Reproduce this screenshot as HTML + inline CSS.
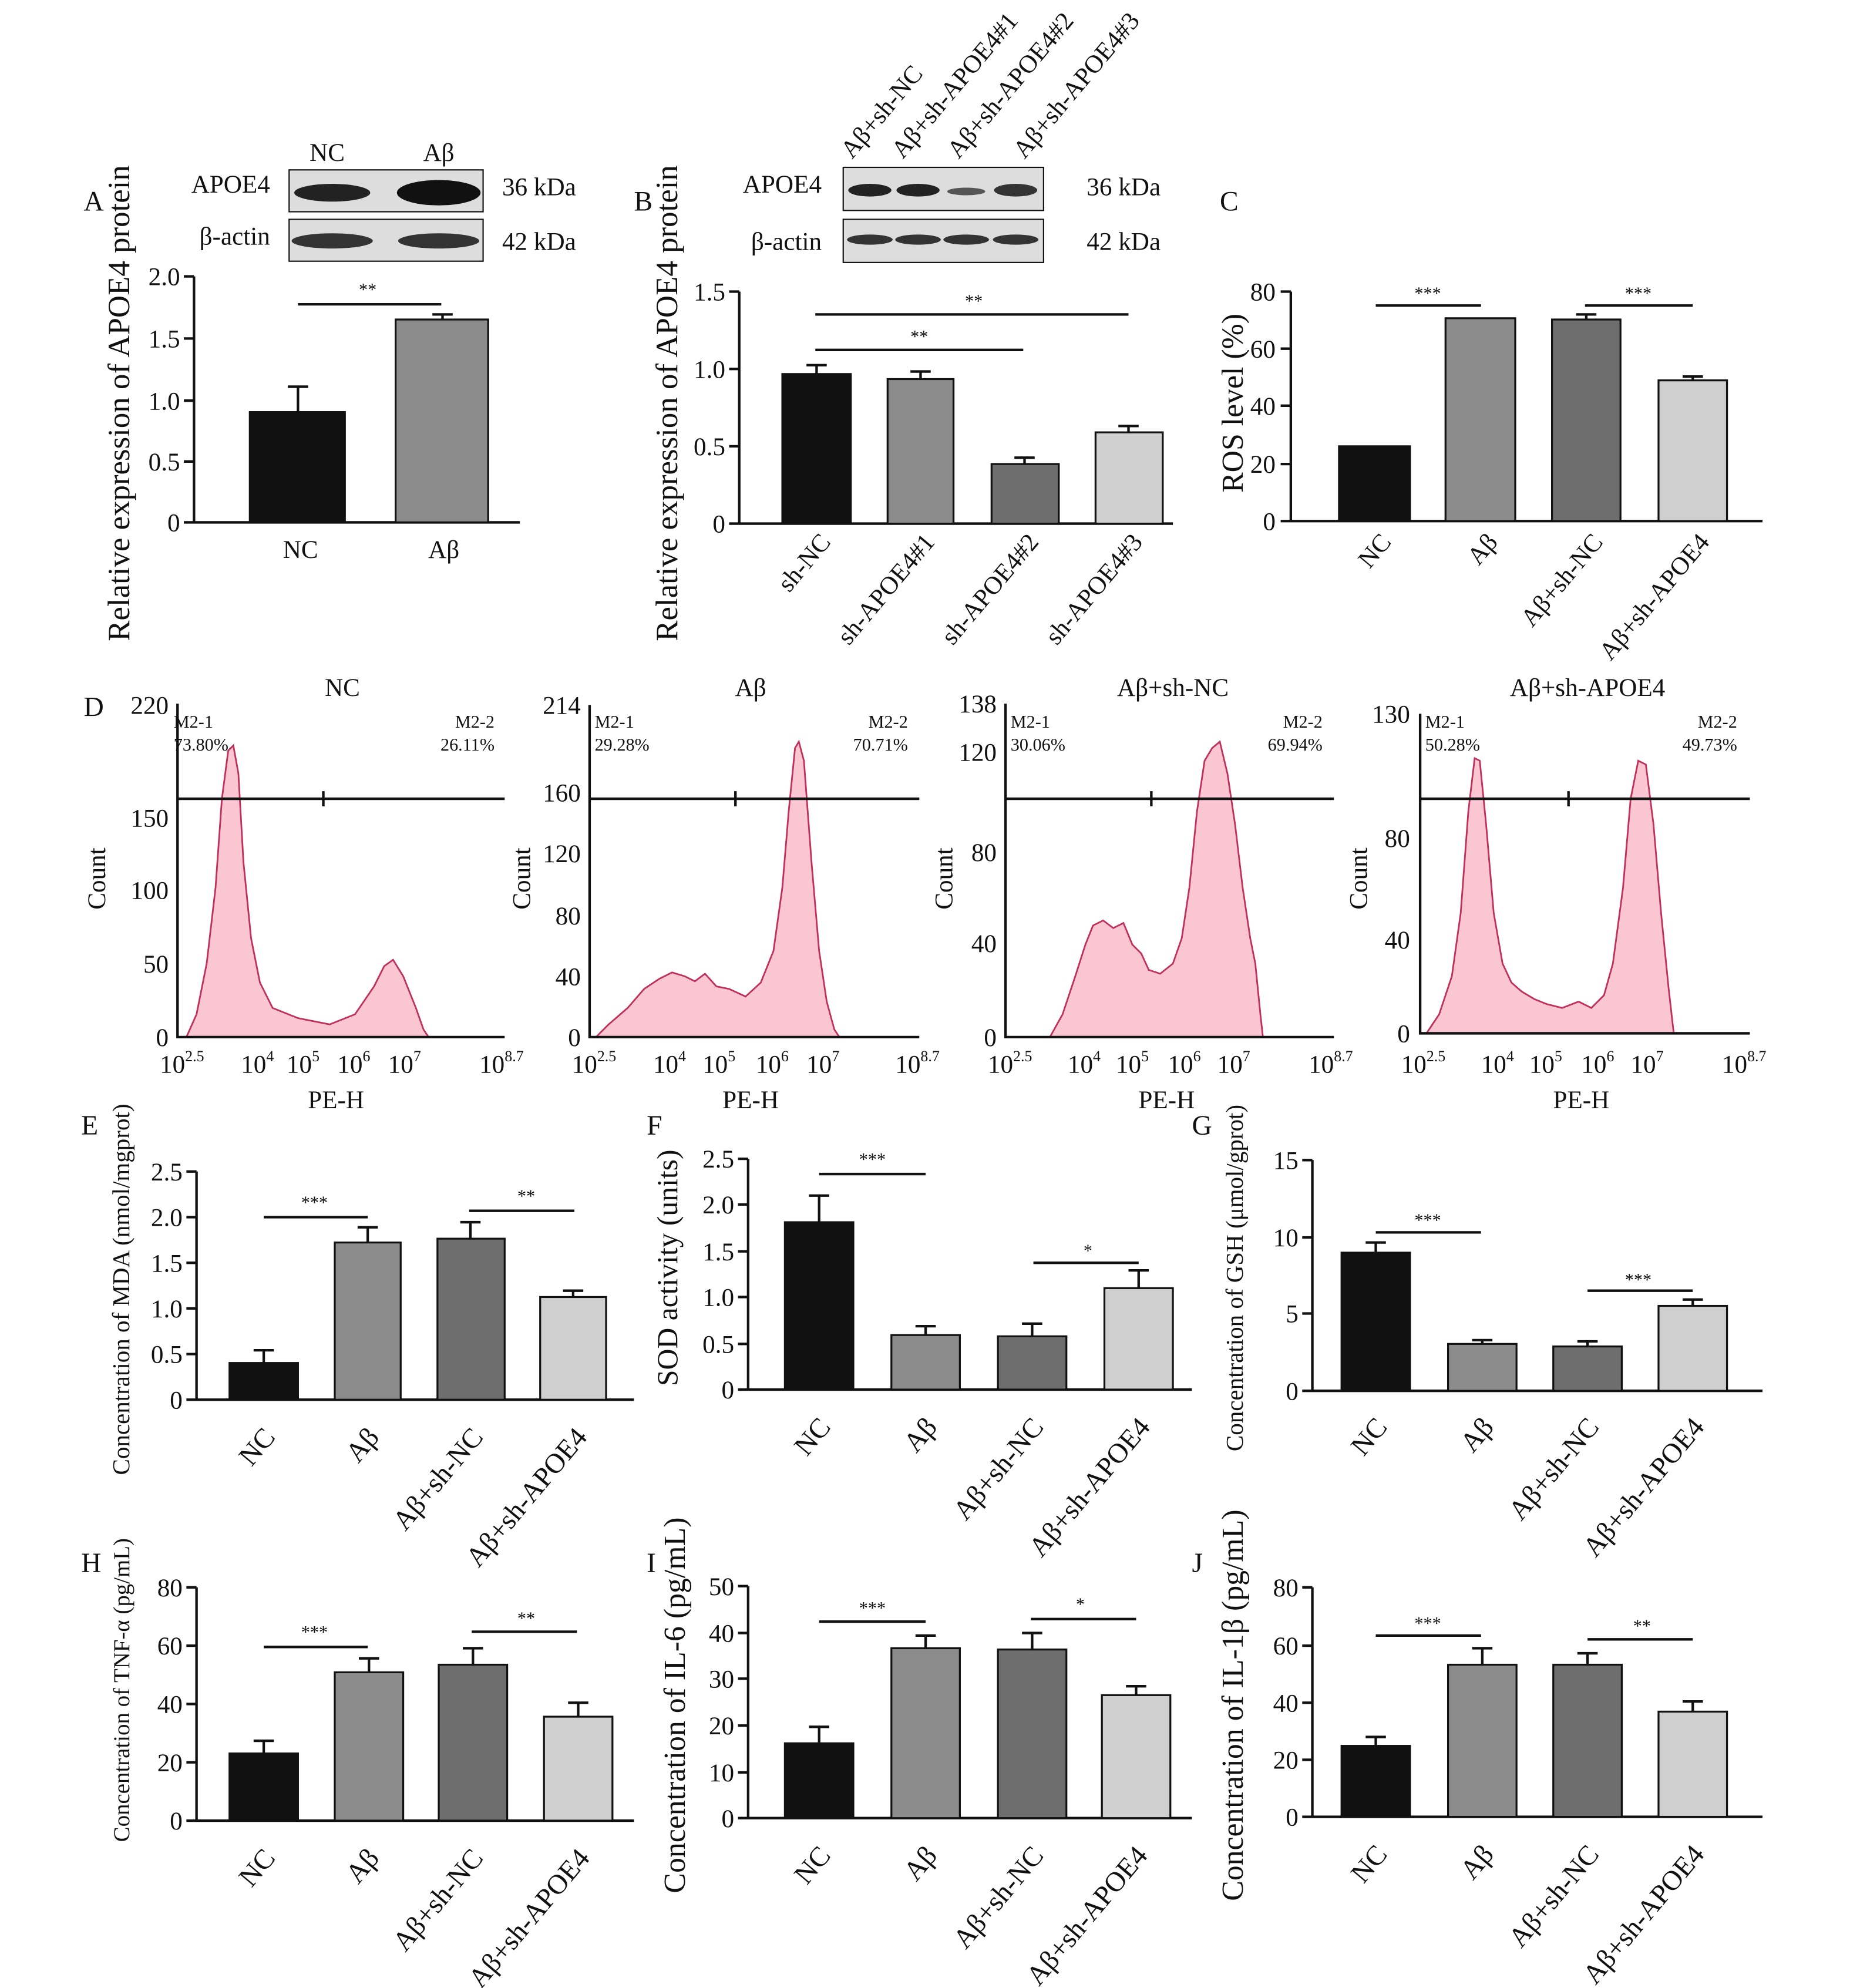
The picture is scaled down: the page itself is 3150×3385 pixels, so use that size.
<!DOCTYPE html>
<html><head><meta charset="utf-8"><style>
html,body{margin:0;padding:0;background:#fff}
svg{display:block}
text{font-family:"Liberation Serif",serif;fill:#111}
.t{font-size:20px}
.s{font-size:14px}
.l{font-size:22px}
.r{font-size:22px}
.ax{stroke:#111;stroke-width:2;fill:none}
.b{stroke:#111;stroke-width:1.5}
.e{stroke:#111;stroke-width:2;fill:none}
.h{fill:#f9c6d2;stroke:#c0305a;stroke-width:1.3}
</style></head><body>
<svg width="3150" height="3385" viewBox="0 0 1459 1568" preserveAspectRatio="none" xmlns="http://www.w3.org/2000/svg">
<rect width="1459" height="1568" fill="#fff"/>

<!-- ===== Panel A ===== -->
<text x="66" y="166" class="l">A</text>
<text x="258" y="127" class="t" text-anchor="middle">NC</text>
<text x="346" y="127" class="t" text-anchor="middle">Aβ</text>
<text x="213" y="152" class="t" text-anchor="end">APOE4</text>
<text x="213" y="193" class="t" text-anchor="end">β-actin</text>
<rect x="228" y="134" width="153" height="33" fill="#ddd" stroke="#111"/>
<rect x="228" y="173" width="153" height="33" fill="#ddd" stroke="#111"/>
<ellipse cx="262" cy="152" rx="30" ry="7" fill="#222"/>
<ellipse cx="346" cy="152" rx="33" ry="10" fill="#111"/>
<ellipse cx="262" cy="190" rx="32" ry="6" fill="#333"/>
<ellipse cx="346" cy="190" rx="32" ry="6" fill="#333"/>
<text x="396" y="154" class="t">36 kDa</text>
<text x="396" y="197" class="t">42 kDa</text>
<path class="ax" d="M153 218V412H410M145 218H153M145 267H153M145 316H153M145 364H153M145 412H153"/>
<g class="t" text-anchor="end"><text x="142" y="225">2.0</text><text x="142" y="274">1.5</text><text x="142" y="323">1.0</text><text x="142" y="371">0.5</text><text x="142" y="419">0</text></g>
<rect x="197" y="325" width="75" height="87" fill="#111" class="b"/>
<rect x="312" y="252" width="73" height="160" fill="#8c8c8c" class="b"/>
<path class="e" d="M235 325V305M227 305H243M349 252V248M341 248H357"/>
<path class="e" d="M235 240H348"/><text x="290" y="233" class="s" text-anchor="middle">**</text>
<text x="237" y="440" class="t" text-anchor="middle">NC</text>
<text x="350" y="440" class="t" text-anchor="middle">Aβ</text>
<text transform="translate(102,318) rotate(-90)" font-size="24.5" text-anchor="middle">Relative expression of APOE4 protein</text>

<!-- ===== Panel B ===== -->
<text x="500" y="166" class="l">B</text>
<g class="t">
<text transform="translate(672,126) rotate(-50)">Aβ+sh-NC</text>
<text transform="translate(712,126) rotate(-50)">Aβ+sh-APOE4#1</text>
<text transform="translate(756,126) rotate(-50)">Aβ+sh-APOE4#2</text>
<text transform="translate(808,126) rotate(-50)">Aβ+sh-APOE4#3</text>
</g>
<text x="648" y="152" class="t" text-anchor="end">APOE4</text>
<text x="648" y="197" class="t" text-anchor="end">β-actin</text>
<rect x="665" y="132" width="158" height="34" fill="#ddd" stroke="#111"/>
<rect x="665" y="173" width="158" height="34" fill="#ddd" stroke="#111"/>
<ellipse cx="686" cy="150" rx="17" ry="5" fill="#222"/>
<ellipse cx="724" cy="150" rx="17" ry="5" fill="#222"/>
<ellipse cx="762" cy="151" rx="15" ry="3" fill="#555"/>
<ellipse cx="801" cy="150" rx="17" ry="5" fill="#333"/>
<ellipse cx="686" cy="189" rx="18" ry="4" fill="#333"/>
<ellipse cx="724" cy="189" rx="18" ry="4" fill="#333"/>
<ellipse cx="762" cy="189" rx="18" ry="4" fill="#333"/>
<ellipse cx="801" cy="189" rx="18" ry="4" fill="#333"/>
<text x="857" y="154" class="t">36 kDa</text>
<text x="857" y="197" class="t">42 kDa</text>
<path class="ax" d="M583 230V413H925M575 230H583M575 291H583M575 352H583M575 413H583"/>
<g class="t" text-anchor="end"><text x="572" y="237">1.5</text><text x="572" y="298">1.0</text><text x="572" y="359">0.5</text><text x="572" y="420">0</text></g>
<rect x="617" y="295" width="54" height="118" fill="#111" class="b"/>
<rect x="700" y="299" width="52" height="114" fill="#8c8c8c" class="b"/>
<rect x="782" y="366" width="53" height="47" fill="#6e6e6e" class="b"/>
<rect x="864" y="341" width="53" height="72" fill="#cfcfcf" class="b"/>
<path class="e" d="M644 295V288M636 288H652M726 299V293M718 293H734M808 366V361M800 361H816M890 341V336M882 336H898"/>
<path class="e" d="M643 276H807M643 248H890"/>
<text x="725" y="270" class="s" text-anchor="middle">**</text>
<text x="768" y="242" class="s" text-anchor="middle">**</text>
<g class="t" text-anchor="end">
<text transform="translate(656,428) rotate(-50)">sh-NC</text>
<text transform="translate(738,428) rotate(-50)">sh-APOE4#1</text>
<text transform="translate(820,428) rotate(-50)">sh-APOE4#2</text>
<text transform="translate(902,428) rotate(-50)">sh-APOE4#3</text>
</g>
<text transform="translate(534,318) rotate(-90)" font-size="24.5" text-anchor="middle">Relative expression of APOE4 protein</text>

<!-- ===== Panel C ===== -->
<text x="962" y="166" class="l">C</text>
<path class="ax" d="M1018 230V411H1390M1010 230H1018M1010 275H1018M1010 320H1018M1010 366H1018M1010 411H1018"/>
<g class="t" text-anchor="end"><text x="1006" y="237">80</text><text x="1006" y="282">60</text><text x="1006" y="327">40</text><text x="1006" y="373">20</text><text x="1006" y="418">0</text></g>
<rect x="1056" y="352" width="56" height="59" fill="#111" class="b"/>
<rect x="1140" y="251" width="55" height="160" fill="#8c8c8c" class="b"/>
<rect x="1224" y="252" width="54" height="159" fill="#6e6e6e" class="b"/>
<rect x="1308" y="300" width="54" height="111" fill="#cfcfcf" class="b"/>
<path class="e" d="M1251 252V248M1243 248H1259M1335 300V297M1327 297H1343"/>
<path class="e" d="M1085 241H1168M1250 241H1335"/>
<text x="1126" y="236" class="s" text-anchor="middle">***</text>
<text x="1292" y="236" class="s" text-anchor="middle">***</text>
<g class="t" text-anchor="end">
<text transform="translate(1098,428) rotate(-50)">NC</text>
<text transform="translate(1182,428) rotate(-50)">Aβ</text>
<text transform="translate(1265,428) rotate(-50)">Aβ+sh-NC</text>
<text transform="translate(1349,428) rotate(-50)">Aβ+sh-APOE4</text>
</g>
<text transform="translate(980,318) rotate(-90)" font-size="24" text-anchor="middle">ROS level (%)</text>

<!-- ===== Panel D ===== -->
<text x="66" y="565" class="l">D</text>
<text x="270" y="549" class="t" text-anchor="middle">NC</text>
<path class="h" d="M147 818L155 800L163 760L170 700L175 630L180 592L184 588L188 610L192 680L198 740L205 775L215 795L235 803L260 808L280 800L295 778L303 762L310 757L318 770L328 795L334 812L338 818Z"/>
<path class="ax" d="M140 555V818H398M140 630H398M255 624V636"/>
<g class="t" text-anchor="end"><text x="133" y="563">220</text><text x="133" y="652">150</text><text x="133" y="709">100</text><text x="133" y="767">50</text><text x="133" y="825">0</text></g>
<text x="137" y="574" class="s">M2-1</text><text x="137" y="592" class="s">73.80%</text>
<text x="390" y="574" class="s" text-anchor="end">M2-2</text><text x="390" y="592" class="s" text-anchor="end">26.11%</text>
<text transform="translate(83,693) rotate(-90)" class="t" text-anchor="middle">Count</text>
<g class="t"><text x="126" y="846">10<tspan font-size="12" dy="-9">2.5</tspan></text><text x="190" y="846">10<tspan font-size="12" dy="-9">4</tspan></text><text x="226" y="846">10<tspan font-size="12" dy="-9">5</tspan></text><text x="266" y="846">10<tspan font-size="12" dy="-9">6</tspan></text><text x="306" y="846">10<tspan font-size="12" dy="-9">7</tspan></text><text x="378" y="846">10<tspan font-size="12" dy="-9">8.7</tspan></text></g>
<text x="265" y="874" class="t" text-anchor="middle">PE-H</text>

<text x="592" y="549" class="t" text-anchor="middle">Aβ</text>
<path class="h" d="M470 818L480 808L495 795L508 780L520 772L530 767L540 770L548 774L556 768L565 778L575 780L588 786L600 775L610 750L617 700L622 640L627 590L630 585L634 600L640 680L646 750L652 790L658 812L662 818Z"/>
<path class="ax" d="M465 556V818H725M465 630H725M580 624V636"/>
<g class="t" text-anchor="end"><text x="458" y="563">214</text><text x="458" y="632">160</text><text x="458" y="680">120</text><text x="458" y="729">80</text><text x="458" y="777">40</text><text x="458" y="825">0</text></g>
<text x="469" y="574" class="s">M2-1</text><text x="469" y="592" class="s">29.28%</text>
<text x="716" y="574" class="s" text-anchor="end">M2-2</text><text x="716" y="592" class="s" text-anchor="end">70.71%</text>
<text transform="translate(418,693) rotate(-90)" class="t" text-anchor="middle">Count</text>
<g class="t"><text x="451" y="846">10<tspan font-size="12" dy="-9">2.5</tspan></text><text x="515" y="846">10<tspan font-size="12" dy="-9">4</tspan></text><text x="554" y="846">10<tspan font-size="12" dy="-9">5</tspan></text><text x="596" y="846">10<tspan font-size="12" dy="-9">6</tspan></text><text x="636" y="846">10<tspan font-size="12" dy="-9">7</tspan></text><text x="706" y="846">10<tspan font-size="12" dy="-9">8.7</tspan></text></g>
<text x="592" y="874" class="t" text-anchor="middle">PE-H</text>

<text x="925" y="549" class="t" text-anchor="middle">Aβ+sh-NC</text>
<path class="h" d="M828 818L838 800L848 770L856 745L862 730L870 726L878 732L886 728L893 745L900 752L906 765L915 768L925 760L932 740L938 700L944 640L950 600L956 590L962 585L968 610L974 650L980 700L986 740L990 760L994 800L996 818Z"/>
<path class="ax" d="M793 555V818H1052M793 630H1052M908 624V636"/>
<g class="t" text-anchor="end"><text x="786" y="562">138</text><text x="786" y="600">120</text><text x="786" y="679">80</text><text x="786" y="751">40</text><text x="786" y="825">0</text></g>
<text x="797" y="574" class="s">M2-1</text><text x="797" y="592" class="s">30.06%</text>
<text x="1043" y="574" class="s" text-anchor="end">M2-2</text><text x="1043" y="592" class="s" text-anchor="end">69.94%</text>
<text transform="translate(751,693) rotate(-90)" class="t" text-anchor="middle">Count</text>
<g class="t"><text x="779" y="846">10<tspan font-size="12" dy="-9">2.5</tspan></text><text x="842" y="846">10<tspan font-size="12" dy="-9">4</tspan></text><text x="880" y="846">10<tspan font-size="12" dy="-9">5</tspan></text><text x="921" y="846">10<tspan font-size="12" dy="-9">6</tspan></text><text x="960" y="846">10<tspan font-size="12" dy="-9">7</tspan></text><text x="1032" y="846">10<tspan font-size="12" dy="-9">8.7</tspan></text></g>
<text x="920" y="874" class="t" text-anchor="middle">PE-H</text>

<text x="1252" y="549" class="t" text-anchor="middle">Aβ+sh-APOE4</text>
<path class="h" d="M1125 815L1135 800L1145 770L1152 720L1158 640L1163 598L1167 600L1172 650L1178 720L1185 760L1192 775L1200 782L1210 788L1220 792L1232 795L1245 790L1255 795L1265 785L1272 760L1280 700L1286 630L1292 600L1298 603L1304 650L1310 720L1316 780L1320 815Z"/>
<path class="ax" d="M1120 563V815H1380M1120 630H1380M1237 624V636"/>
<g class="t" text-anchor="end"><text x="1112" y="570">130</text><text x="1112" y="668">80</text><text x="1112" y="748">40</text><text x="1112" y="822">0</text></g>
<text x="1124" y="574" class="s">M2-1</text><text x="1124" y="592" class="s">50.28%</text>
<text x="1370" y="574" class="s" text-anchor="end">M2-2</text><text x="1370" y="592" class="s" text-anchor="end">49.73%</text>
<text transform="translate(1078,693) rotate(-90)" class="t" text-anchor="middle">Count</text>
<g class="t"><text x="1105" y="846">10<tspan font-size="12" dy="-9">2.5</tspan></text><text x="1168" y="846">10<tspan font-size="12" dy="-9">4</tspan></text><text x="1206" y="846">10<tspan font-size="12" dy="-9">5</tspan></text><text x="1247" y="846">10<tspan font-size="12" dy="-9">6</tspan></text><text x="1286" y="846">10<tspan font-size="12" dy="-9">7</tspan></text><text x="1358" y="846">10<tspan font-size="12" dy="-9">8.7</tspan></text></g>
<text x="1247" y="874" class="t" text-anchor="middle">PE-H</text>

<!-- ===== Panel E ===== -->
<text x="64" y="895" class="l">E</text>
<path class="ax" d="M155 924V1104H500M147 924H155M147 960H155M147 996H155M147 1032H155M147 1068H155M147 1104H155"/>
<g class="t" text-anchor="end"><text x="144" y="931">2.5</text><text x="144" y="967">2.0</text><text x="144" y="1003">1.5</text><text x="144" y="1039">1.0</text><text x="144" y="1075">0.5</text><text x="144" y="1111">0</text></g>
<rect x="181" y="1075" width="54" height="29" fill="#111" class="b"/>
<rect x="264" y="980" width="52" height="124" fill="#8c8c8c" class="b"/>
<rect x="345" y="977" width="53" height="127" fill="#6e6e6e" class="b"/>
<rect x="426" y="1023" width="52" height="81" fill="#cfcfcf" class="b"/>
<path class="e" d="M208 1075V1065M200 1065H216M290 980V968M282 968H298M371 977V964M363 964H379M452 1023V1018M444 1018H460"/>
<path class="e" d="M208 960H290M370 955H453"/>
<text x="248" y="953" class="s" text-anchor="middle">***</text>
<text x="415" y="948" class="s" text-anchor="middle">**</text>
<g class="r" text-anchor="end">
<text transform="translate(218,1134) rotate(-50)">NC</text>
<text transform="translate(300,1134) rotate(-50)">Aβ</text>
<text transform="translate(382,1134) rotate(-50)">Aβ+sh-NC</text>
<text transform="translate(464,1134) rotate(-50)">Aβ+sh-APOE4</text>
</g>
<text transform="translate(102,1017) rotate(-90)" font-size="19" text-anchor="middle">Concentration of MDA (nmol/mgprot)</text>

<!-- ===== Panel F ===== -->
<text x="510" y="895" class="l">F</text>
<path class="ax" d="M590 914V1096H940M582 914H590M582 950H590M582 987H590M582 1023H590M582 1060H590M582 1096H590"/>
<g class="t" text-anchor="end"><text x="579" y="921">2.5</text><text x="579" y="957">2.0</text><text x="579" y="994">1.5</text><text x="579" y="1030">1.0</text><text x="579" y="1067">0.5</text><text x="579" y="1103">0</text></g>
<rect x="619" y="964" width="54" height="132" fill="#111" class="b"/>
<rect x="703" y="1053" width="54" height="43" fill="#8c8c8c" class="b"/>
<rect x="787" y="1054" width="54" height="42" fill="#6e6e6e" class="b"/>
<rect x="871" y="1016" width="54" height="80" fill="#cfcfcf" class="b"/>
<path class="e" d="M646 964V943M638 943H654M730 1053V1046M722 1046H738M814 1054V1044M806 1044H822M898 1016V1002M890 1002H906"/>
<path class="e" d="M646 926H730M815 996H898"/>
<text x="688" y="919" class="s" text-anchor="middle">***</text>
<text x="858" y="991" class="s" text-anchor="middle">*</text>
<g class="r" text-anchor="end">
<text transform="translate(656,1126) rotate(-50)">NC</text>
<text transform="translate(740,1126) rotate(-50)">Aβ</text>
<text transform="translate(824,1126) rotate(-50)">Aβ+sh-NC</text>
<text transform="translate(908,1126) rotate(-50)">Aβ+sh-APOE4</text>
</g>
<text transform="translate(534,1000) rotate(-90)" font-size="23" text-anchor="middle">SOD activity (units)</text>

<!-- ===== Panel G ===== -->
<text x="940" y="895" class="l">G</text>
<path class="ax" d="M1035 915V1097H1390M1027 915H1035M1027 976H1035M1027 1036H1035M1027 1097H1035"/>
<g class="t" text-anchor="end"><text x="1024" y="922">15</text><text x="1024" y="983">10</text><text x="1024" y="1043">5</text><text x="1024" y="1104">0</text></g>
<rect x="1058" y="988" width="54" height="109" fill="#111" class="b"/>
<rect x="1142" y="1060" width="54" height="37" fill="#8c8c8c" class="b"/>
<rect x="1225" y="1062" width="54" height="35" fill="#6e6e6e" class="b"/>
<rect x="1308" y="1030" width="54" height="67" fill="#cfcfcf" class="b"/>
<path class="e" d="M1085 988V980M1077 980H1093M1169 1060V1057M1161 1057H1177M1252 1062V1058M1244 1058H1260M1335 1030V1025M1327 1025H1343"/>
<path class="e" d="M1085 972H1168M1252 1018H1335"/>
<text x="1126" y="967" class="s" text-anchor="middle">***</text>
<text x="1292" y="1014" class="s" text-anchor="middle">***</text>
<g class="r" text-anchor="end">
<text transform="translate(1095,1126) rotate(-50)">NC</text>
<text transform="translate(1179,1126) rotate(-50)">Aβ</text>
<text transform="translate(1262,1126) rotate(-50)">Aβ+sh-NC</text>
<text transform="translate(1345,1126) rotate(-50)">Aβ+sh-APOE4</text>
</g>
<text transform="translate(980,1008) rotate(-90)" font-size="19" text-anchor="middle">Concentration of GSH (μmol/gprot)</text>

<!-- ===== Panel H ===== -->
<text x="64" y="1240" class="l">H</text>
<path class="ax" d="M155 1252V1436H500M147 1252H155M147 1298H155M147 1344H155M147 1390H155M147 1436H155"/>
<g class="t" text-anchor="end"><text x="144" y="1259">80</text><text x="144" y="1305">60</text><text x="144" y="1351">40</text><text x="144" y="1397">20</text><text x="144" y="1443">0</text></g>
<rect x="181" y="1383" width="54" height="53" fill="#111" class="b"/>
<rect x="264" y="1319" width="54" height="117" fill="#8c8c8c" class="b"/>
<rect x="346" y="1313" width="54" height="123" fill="#6e6e6e" class="b"/>
<rect x="429" y="1354" width="54" height="82" fill="#cfcfcf" class="b"/>
<path class="e" d="M208 1383V1373M200 1373H216M291 1319V1308M283 1308H299M373 1313V1300M365 1300H381M456 1354V1343M448 1343H464"/>
<path class="e" d="M208 1299H290M372 1287H455"/>
<text x="248" y="1292" class="s" text-anchor="middle">***</text>
<text x="415" y="1281" class="s" text-anchor="middle">**</text>
<g class="r" text-anchor="end">
<text transform="translate(218,1466) rotate(-50)">NC</text>
<text transform="translate(300,1466) rotate(-50)">Aβ</text>
<text transform="translate(382,1466) rotate(-50)">Aβ+sh-NC</text>
<text transform="translate(466,1466) rotate(-50)">Aβ+sh-APOE4</text>
</g>
<text transform="translate(102,1333) rotate(-90)" font-size="18" text-anchor="middle">Concentration of TNF-α (pg/mL)</text>

<!-- ===== Panel I ===== -->
<text x="510" y="1240" class="l">I</text>
<path class="ax" d="M590 1251V1434H940M582 1251H590M582 1288H590M582 1324H590M582 1361H590M582 1398H590M582 1434H590"/>
<g class="t" text-anchor="end"><text x="579" y="1258">50</text><text x="579" y="1295">40</text><text x="579" y="1331">30</text><text x="579" y="1368">20</text><text x="579" y="1405">10</text><text x="579" y="1441">0</text></g>
<rect x="619" y="1375" width="54" height="59" fill="#111" class="b"/>
<rect x="703" y="1300" width="54" height="134" fill="#8c8c8c" class="b"/>
<rect x="787" y="1301" width="54" height="133" fill="#6e6e6e" class="b"/>
<rect x="869" y="1337" width="54" height="97" fill="#cfcfcf" class="b"/>
<path class="e" d="M646 1375V1362M638 1362H654M730 1300V1290M722 1290H738M814 1301V1288M806 1288H822M896 1337V1330M888 1330H904"/>
<path class="e" d="M646 1279H730M813 1277H896"/>
<text x="688" y="1273" class="s" text-anchor="middle">***</text>
<text x="852" y="1270" class="s" text-anchor="middle">*</text>
<g class="r" text-anchor="end">
<text transform="translate(656,1464) rotate(-50)">NC</text>
<text transform="translate(740,1464) rotate(-50)">Aβ</text>
<text transform="translate(824,1464) rotate(-50)">Aβ+sh-NC</text>
<text transform="translate(906,1464) rotate(-50)">Aβ+sh-APOE4</text>
</g>
<text transform="translate(540,1345) rotate(-90)" font-size="24" text-anchor="middle">Concentration of IL-6 (pg/mL)</text>

<!-- ===== Panel J ===== -->
<text x="940" y="1240" class="l">J</text>
<path class="ax" d="M1035 1252V1433H1390M1027 1252H1035M1027 1298H1035M1027 1343H1035M1027 1388H1035M1027 1433H1035"/>
<g class="t" text-anchor="end"><text x="1024" y="1259">80</text><text x="1024" y="1305">60</text><text x="1024" y="1350">40</text><text x="1024" y="1395">20</text><text x="1024" y="1440">0</text></g>
<rect x="1058" y="1377" width="54" height="56" fill="#111" class="b"/>
<rect x="1142" y="1313" width="54" height="120" fill="#8c8c8c" class="b"/>
<rect x="1225" y="1313" width="54" height="120" fill="#6e6e6e" class="b"/>
<rect x="1308" y="1350" width="54" height="83" fill="#cfcfcf" class="b"/>
<path class="e" d="M1085 1377V1370M1077 1370H1093M1169 1313V1300M1161 1300H1177M1252 1313V1304M1244 1304H1260M1335 1350V1342M1327 1342H1343"/>
<path class="e" d="M1085 1290H1168M1252 1293H1335"/>
<text x="1126" y="1285" class="s" text-anchor="middle">***</text>
<text x="1295" y="1287" class="s" text-anchor="middle">**</text>
<g class="r" text-anchor="end">
<text transform="translate(1095,1463) rotate(-50)">NC</text>
<text transform="translate(1179,1463) rotate(-50)">Aβ</text>
<text transform="translate(1262,1463) rotate(-50)">Aβ+sh-NC</text>
<text transform="translate(1345,1463) rotate(-50)">Aβ+sh-APOE4</text>
</g>
<text transform="translate(980,1345) rotate(-90)" font-size="24" text-anchor="middle">Concentration of IL-1β (pg/mL)</text>
</svg>
</body></html>
